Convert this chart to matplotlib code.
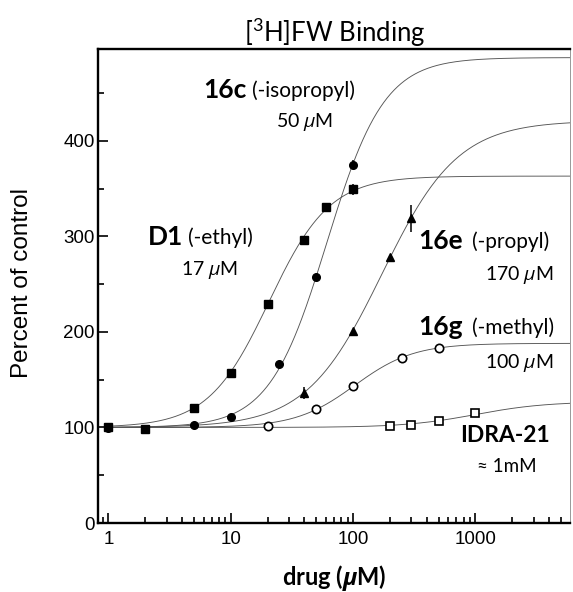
import numpy as np
import matplotlib
matplotlib.use("Agg")
import matplotlib.pyplot as plt
from matplotlib.ticker import LogLocator, NullFormatter, MultipleLocator

plt.rcParams['mathtext.fontset'] = 'custom'
plt.rcParams['mathtext.rm'] = 'Lato'
plt.rcParams['mathtext.it'] = 'Open Sans:italic'
plt.rcParams['mathtext.bf'] = 'Open Sans:bold:italic'

# data points
d1_x = [1, 2, 5, 10, 20, 40, 60, 100]
d1_y = [100, 98, 120, 157, 229, 296, 331, 349]
d1_err = [0, 0, 0, 0, 0, 3, 0, 6]

c16_x = [1, 5, 10, 25, 50, 100]
c16_y = [99, 103, 111, 166, 257, 375]
c16_err = [0, 0, 0, 0, 4, 5]

e16_x = [40, 100, 200, 300]
e16_y = [136, 201, 278, 319]
e16_err = [6, 0, 0, 14]

g16_x = [20, 50, 100, 250, 500]
g16_y = [102, 119, 143, 173, 183]

idra_x = [200, 300, 500, 1000]
idra_y = [101, 103, 107, 115]

# fitted curves: top, EC50, hill
d1_fit = [363, 20.5, 1.75]
c16_fit = [487, 61, 1.85]
e16_fit = [421, 172, 1.4]
g16_fit = [188, 103, 1.8]
idra_fit = [127, 1000, 1.5]


def hill(x, top, ec50, n):
    return 100 + (top - 100) / (1 + (ec50 / x) ** n)


W, H = 573, 592
fig = plt.figure(figsize=(W / 100, H / 100), dpi=100)
ax = fig.add_axes([97.5 / W, 1 - 523 / H, (570 - 97.5) / W, (523 - 49) / H])
ax.set_xscale('log')
ax.set_xlim(0.813, 5930)
ax.set_ylim(0, 496)

xx = np.logspace(0, np.log10(5930), 400)
for fit in [d1_fit, c16_fit, e16_fit, g16_fit, idra_fit]:
    ax.plot(xx, hill(xx, *fit), color='#555555', lw=0.65, zorder=2)

ax.errorbar(d1_x, d1_y, yerr=d1_err, fmt='s', color='black', ms=5.5, elinewidth=1.1, capsize=0, zorder=3)
ax.errorbar(c16_x, c16_y, yerr=c16_err, fmt='o', color='black', ms=5.5, elinewidth=1.1, capsize=0, zorder=3)
ax.errorbar(e16_x, e16_y, yerr=e16_err, fmt='^', color='black', ms=5.5, elinewidth=1.1, capsize=0, zorder=3)
ax.plot(g16_x, g16_y, 'o', mfc='white', mec='black', mew=1.2, ms=6, zorder=3)
ax.plot(idra_x, idra_y, 's', mfc='white', mec='black', mew=1.2, ms=6, zorder=3)

# axes styling
for s in ['left', 'bottom', 'top']:
    ax.spines[s].set_linewidth(1.7)
ax.spines['right'].set_linewidth(0.6)
ax.spines['right'].set_color('#888888')

ax.yaxis.set_major_locator(MultipleLocator(100))
ax.yaxis.set_minor_locator(MultipleLocator(50))
ax.xaxis.set_minor_locator(LogLocator(base=10, subs=np.arange(2, 10), numticks=10))
ax.xaxis.set_minor_formatter(NullFormatter())
ax.set_xticks([1, 10, 100, 1000])
ax.set_xticklabels(['1', '10', '100', '1000'])
ax.tick_params(which='both', direction='in', width=1.2, top=False, right=False)
ax.tick_params(which='major', length=7)
ax.tick_params(which='minor', length=4)
ax.tick_params(axis='y', pad=2)
ax.tick_params(axis='x', pad=6)
for lab in ax.get_xticklabels() + ax.get_yticklabels():
    lab.set_fontfamily('Liberation Sans')
    lab.set_fontsize(13.5)


def fx(px):
    return px / W


def fy(py):
    return 1 - py / H


fig.text(fx(335), fy(33), r'[$^3$H]FW Binding', family='Lato', fontsize=18.5, ha='center', va='center')
fig.text(fx(22), fy(283), 'Percent of control', family='Liberation Sans', fontsize=17.5,
         rotation=90, ha='center', va='center')
fig.text(fx(334), fy(578), r'drug ($\mathbf{\mu}$M)', family='Lato', fontweight='bold',
         fontsize=17, ha='center', va='center')

# curve labels
labels = [
    ('16c', '(-isopropyl)', 203, 252, 90, r'50 $\mu$M', 305, 122),
    ('D1', '(-ethyl)', 148, 188, 237, r'17 $\mu$M', 210, 270),
    ('16e', '(-propyl)', 418, 472, 241, r'170 $\mu$M', 519, 275),
    ('16g', '(-methyl)', 418, 472, 327, r'100 $\mu$M', 519, 363),
]
for bold, par, x0, x1, cy, sub, sx, sy in labels:
    fig.text(fx(x0), fy(cy), bold, family='Lato', fontweight='bold', fontsize=19, ha='left', va='center')
    fig.text(fx(x1), fy(cy + 1), par, family='Lato', fontsize=15, ha='left', va='center')
    fig.text(fx(sx), fy(sy), sub, family='Lato', fontsize=14, ha='center', va='center')

fig.text(fx(550), fy(436), 'IDRA-21', family='Lato', fontweight='bold', fontsize=16.5, ha='right', va='center')
fig.text(fx(507), fy(466), '\u2248 1mM', family=['Lato', 'DejaVu Sans'], fontsize=13.5, ha='center', va='center')

fig.savefig('out.png', dpi=100)
